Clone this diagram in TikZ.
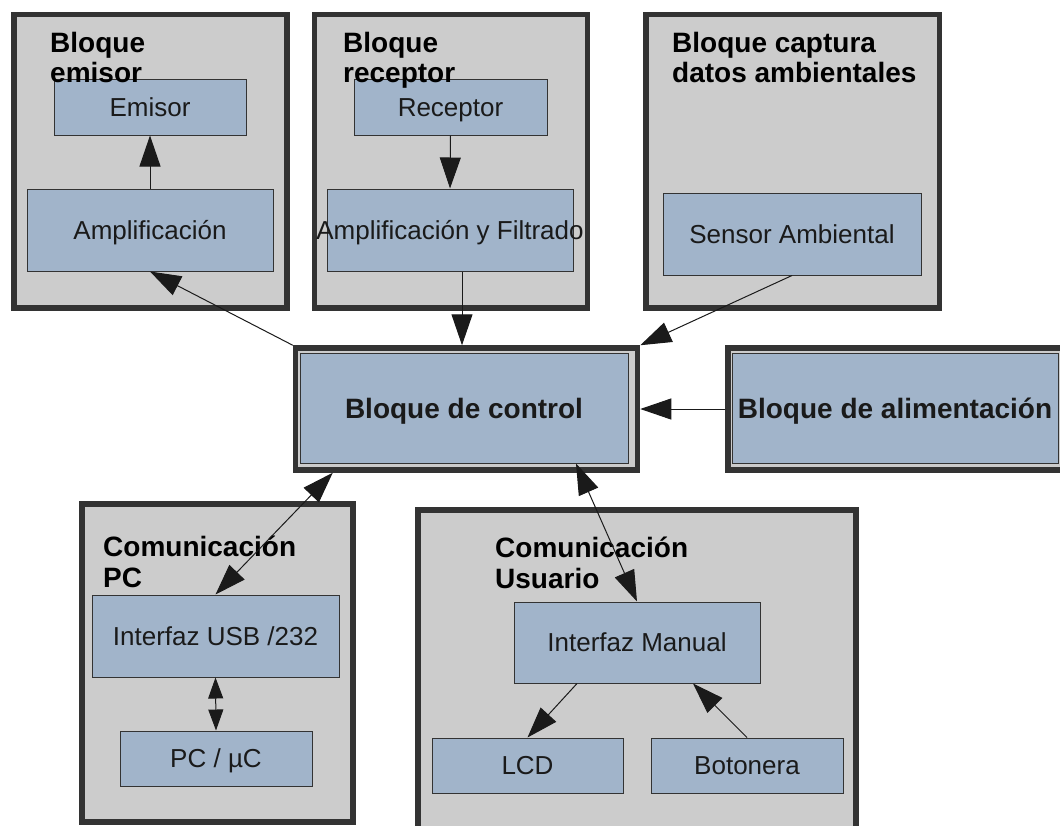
\documentclass[tikz,border=0pt]{standalone}
\usepackage{fontspec}
\setmainfont{Liberation Sans}
\usetikzlibrary{arrows.meta,calc,fit}
\definecolor{boxgray}{RGB}{204,204,204}
\definecolor{boxdark}{RGB}{51,51,51}
\definecolor{boxblue}{RGB}{161,180,202}
\definecolor{inkc}{RGB}{26,26,26}
\begin{document}
\begin{tikzpicture}[x=1pt,y=-1pt,
  outerbox/.style={draw=boxdark, fill=boxgray, line width=5.5pt, rectangle, inner sep=0pt},
  inbox/.style={draw=boxdark, fill=boxblue, line width=1pt, rectangle, inner sep=0pt, text=inkc,
    font=\fontsize{26}{30}\selectfont, text height=18.6pt, text depth=0pt},
  inboldbox/.style={inbox, font=\bfseries\fontsize{28}{30}\selectfont, text height=20pt},
  ttl/.style={anchor=base west, inner sep=0pt, font=\bfseries\fontsize{28}{30}\selectfont, text=black},
  conn/.style={draw=inkc, line width=1pt},
  head/.style={-{Triangle[length=31pt,width=21pt]}},
  both/.style={{Triangle[length=31pt,width=21pt]}-{Triangle[length=31pt,width=21pt]}},
  smallboth/.style={{Triangle[length=21pt,width=15pt]}-{Triangle[length=21pt,width=15pt]}}
]
\fill[white] (0,0) rectangle (1060,825);
\useasboundingbox (0,0) rectangle (1060,825);
\clip (0,0) rectangle (1060,825);

% outer blocks
\node[outerbox, fit={(14,14.5) (287,308)}] (emi) {};
\node[outerbox, fit={(314.5,14.5) (587.5,308)}] (rcv) {};
\node[outerbox, fit={(646,14.5) (939.5,308)}] (cap) {};
\node[outerbox, fit={(295.5,348) (637.5,470)}] (ctl) {};
\node[outerbox, fit={(728,348) (1075,470)}] (alim) {};
\node[outerbox, fit={(82,504) (353,822)}] (cpc) {};
\node[outerbox, fit={(418,510) (856,845)}] (cus) {};

% inner blocks
\node[inbox, minimum width=192pt, minimum height=56pt] (emisor) at (150,107) {Emisor};
\node[inbox, minimum width=246pt, minimum height=82pt] (amp1) at (150,230) {Amplificación};
\node[inbox, minimum width=193pt, minimum height=56pt] (recep) at (450.5,107) {Receptor};
\node[inbox, minimum width=246pt, minimum height=82pt] (ampf) at (450,230) {\makebox[0pt][c]{Amplificación y Filtrado}};
\node[inbox, minimum width=258pt, minimum height=82pt] (sens) at (792,234) {Sensor Ambiental};
\node[inboldbox, minimum width=328pt, minimum height=110pt] (ctlin) at (464,408) {Bloque de control};
\node[inboldbox, minimum width=326pt, minimum height=110pt] (alimin) at (895,408) {Bloque de alimentación};
\node[inbox, minimum width=247pt, minimum height=82pt] (usb) at (215.5,636) {Interfaz USB /232};
\node[inbox, minimum width=192pt, minimum height=55pt] (pc) at (216,758.5) {PC / µC};
\node[inbox, minimum width=246pt, minimum height=81pt] (iman) at (637,642.5) {Interfaz Manual};
\node[inbox, minimum width=191pt, minimum height=55pt] (lcd) at (527.5,765.5) {LCD};
\node[inbox, minimum width=192pt, minimum height=55pt] (bot) at (747,765.5) {Botonera};

% titles
\node[ttl] (tEa) at (50,52) {Bloque};
\node[ttl] (tEb) at (50,82) {emisor};
\node[ttl] (tRa) at (343,52) {Bloque};
\node[ttl] (tRb) at (343,82) {receptor};
\node[ttl] (tCa) at (672,52) {Bloque captura};
\node[ttl] (tCb) at (672,82) {datos ambientales};
\node[ttl] (tPa) at (103,556) {Comunicación};
\node[ttl] (tPb) at (103,587) {PC};
\node[ttl] (tUa) at (495,557) {Comunicación};
\node[ttl] (tUb) at (495,588) {Usuario};

% connectors
\draw[conn,head] (amp1.north) -- (emisor.south);
\draw[conn,head] (recep.south) -- (ampf.north);
\draw[conn,head] (ctl.north west) -- (amp1.south);
\draw[conn,head] ([xshift=12pt]ampf.south) -- ([xshift=12pt]ampf.south |- ctl.north);
\draw[conn,head] (sens.south) -- (ctl.north east);
\draw[conn,head] (alim.west) -- (ctl.east);
\draw[conn,both] (usb.north) -- ($(ctl.south west)+(40,0)$);
\draw[conn,both] (iman.north) -- ($(ctlin.south)+(112,0)$);
\draw[conn,smallboth] (usb.south) -- (pc.north);
\draw[conn,head] ($(iman.south)+(-60,0)$) -- (lcd.north);
\draw[conn,head] (bot.north) -- ($(iman.south)+(56,0)$);
\end{tikzpicture}
\end{document}
